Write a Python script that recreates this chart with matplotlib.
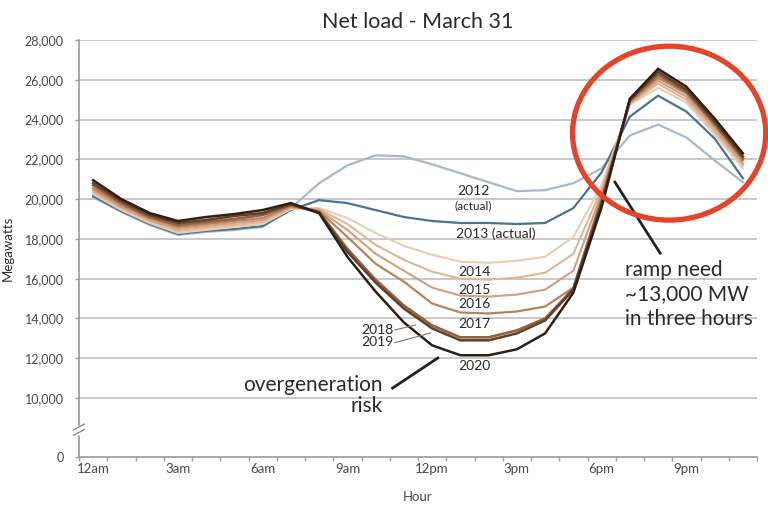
import numpy as np
import matplotlib
matplotlib.use("Agg")
import matplotlib.pyplot as plt
from matplotlib.patches import Ellipse

# ---------------- data ----------------
hours = list(range(24))
hour_label_pos = [0, 3, 6, 9, 12, 15, 18, 21]
hour_labels = ["12am", "3am", "6am", "9am", "12pm", "3pm", "6pm", "9pm"]

y_ticks = [0, 10000, 12000, 14000, 16000, 18000, 20000, 22000, 24000, 26000, 28000]
y_tick_labels = ["0", "10,000", "12,000", "14,000", "16,000", "18,000",
                 "20,000", "22,000", "24,000", "26,000", "28,000"]

years = ["2012", "2013", "2014", "2015", "2016", "2017", "2018", "2019", "2020"]

load_2012 = [20100, 19350, 18700, 18200, 18350, 18450, 18600, 19550, 20800, 21700, 22200, 22150,
             21750, 21300, 20850, 20400, 20450, 20800, 21550, 23200, 23750, 23100, 21950, 20850]
load_2013 = [20150, 19400, 18750, 18250, 18400, 18500, 18650, 19450, 19950, 19800, 19450, 19100,
             18900, 18800, 18800, 18750, 18800, 19550, 21350, 24150, 25200, 24400, 23050, 21050]
load_2014 = [20250, 19450, 18800, 18300, 18450, 18600, 18750, 19500, 19550, 19050, 18300, 17650,
             17200, 16850, 16800, 16900, 17100, 18100, 20700, 24750, 25600, 24850, 23250, 21550]
load_2015 = [20350, 19550, 18900, 18400, 18550, 18700, 18850, 19550, 19500, 18750, 17700, 16950,
             16350, 16000, 15950, 16050, 16300, 17250, 20500, 24800, 25800, 25000, 23400, 21700]
load_2016 = [20450, 19600, 18950, 18500, 18650, 18800, 18950, 19600, 19450, 18450, 17250, 16400,
             15550, 15150, 15100, 15200, 15450, 16400, 20300, 24850, 25950, 25150, 23550, 21800]
load_2017 = [20550, 19700, 19050, 18600, 18750, 18900, 19050, 19650, 19400, 18100, 16750, 15850,
             14750, 14300, 14250, 14350, 14600, 15550, 20100, 24900, 26100, 25300, 23700, 21950]
load_2018 = [20700, 19800, 19100, 18700, 18850, 19000, 19200, 19700, 19350, 17500, 15950, 14650,
             13650, 13050, 13050, 13400, 14000, 15500, 19900, 24950, 26250, 25400, 23800, 22050]
load_2019 = [20800, 19900, 19200, 18800, 18950, 19150, 19300, 19750, 19300, 17350, 15800, 14500,
             13500, 12900, 12900, 13250, 13900, 15450, 19800, 25000, 26400, 25500, 23900, 22150]
load_2020 = [20950, 20000, 19300, 18900, 19100, 19250, 19450, 19800, 19300, 17100, 15350, 13800,
             12650, 12150, 12150, 12450, 13250, 15300, 19600, 25050, 26550, 25650, 24050, 22300]

series = [load_2012, load_2013, load_2014, load_2015, load_2016,
          load_2017, load_2018, load_2019, load_2020]
colors = ["#a9b8c5", "#4a7391", "#e9cdb3", "#ddb697", "#cfa080",
          "#b9825f", "#95603d", "#60402a", "#2c1f16"]
widths = [1.6, 1.6, 1.5, 1.5, 1.5, 1.6, 1.9, 1.8, 1.8]

# ---------------- styling ----------------
FONT = ["Lato", "DejaVu Sans"]
plt.rcParams["font.family"] = FONT
TXT = "#2a2a2a"
TICK = "#4a4a4a"
GRID = "#c4c4c4"

# broken y axis: the range 0-10,000 is compressed
K = 0.2965
def fwd(v):
    v = np.asarray(v, dtype=float)
    return np.where(v >= 10000, v, 10000 - (10000 - v) * K)
def inv(u):
    u = np.asarray(u, dtype=float)
    return np.where(u >= 10000, u, 10000 - (10000 - u) / K)

fig = plt.figure(figsize=(7.68, 5.07), dpi=100)
ax = fig.add_axes([79 / 768, 1 - 457 / 507, (757 - 79) / 768, (457 - 40) / 507])
ax.set_yscale("function", functions=(fwd, inv))

for vals, c, lw in zip(series, colors, widths):
    ax.plot(hours, vals, color=c, lw=lw, solid_joinstyle="miter", zorder=3)

ax.set_xlim(-0.5, 23.5)
ax.set_ylim(0, 28000)

# grid
for t in y_ticks[1:]:
    ax.axhline(t, color=GRID, lw=1.3, zorder=1)

# ticks
ax.set_yticks(y_ticks)
ax.set_yticklabels(y_tick_labels)
ax.tick_params(axis="y", length=3, width=1, color="#9a9a9a", pad=8,
               labelsize=9, labelcolor=TICK)
ax.set_xticks(np.arange(-0.5, 24, 1))
ax.set_xticklabels([])
ax.set_xticks(hour_label_pos, minor=True)
ax.set_xticklabels(hour_labels, minor=True)
ax.tick_params(axis="x", which="major", length=3, width=1, color="#9a9a9a", direction="out")
ax.tick_params(axis="x", which="minor", length=0, pad=4, labelsize=9.5, labelcolor=TICK)

for s in ["top", "right"]:
    ax.spines[s].set_visible(False)
for s in ["left", "bottom"]:
    ax.spines[s].set_color("#9a9a9a")
    ax.spines[s].set_linewidth(1.2)

# axis break marks on the y axis
ax.plot([0, 0], [0.058, 0.071], transform=ax.transAxes, color="white",
        lw=2.5, clip_on=False, zorder=4)
for dy in (0.0, 0.013):
    ax.plot([-0.008, 0.008], [0.052 + dy, 0.066 + dy], transform=ax.transAxes,
            color="#8a8a8a", lw=1.0, clip_on=False, zorder=5)

ax.set_title("Net load - March 31", fontsize=15.5, color=TXT, pad=9)
ax.set_xlabel("Hour", fontsize=9.5, color=TICK, labelpad=12)
ax.set_ylabel("Megawatts", fontsize=9.5, color=TXT, labelpad=8)

# year labels
lab = dict(fontsize=10, color=TXT, ha="center", va="center", zorder=6)
ax.text(13.47, 20400, "2012", **lab)
ax.text(13.47, 19650, "(actual)", fontsize=8.5, color=TXT, ha="center", va="center")
ax.text(14.25, 18240, "2013 (actual)", **lab)
ax.text(13.5, 16330, "2014", **lab)
ax.text(13.5, 15430, "2015", **lab)
ax.text(13.5, 14720, "2016", **lab)
ax.text(13.5, 13720, "2017", **lab)
ax.text(13.5, 11610, "2020", **lab)
ax.text(10.07, 13420, "2018", **lab)
ax.text(10.07, 12810, "2019", **lab)
ax.plot([10.68, 11.41], [13420, 13670], color="#777777", lw=0.8, zorder=6)
ax.plot([10.68, 11.95], [12780, 13270], color="#777777", lw=0.8, zorder=6)

# callouts
ax.text(10.24, 10120, "overgeneration\nrisk", fontsize=15, color=TXT,
        ha="right", va="center", multialignment="right", linespacing=1.1)
ax.plot([10.6, 12.2], [10500, 12010], color="#222222", lw=2, zorder=6)

ax.text(18.83, 15226, "ramp need\n~13,000 MW\nin three hours", fontsize=15, color=TXT,
        ha="left", va="center", linespacing=1.28)
ax.plot([18.47, 20.07], [20854, 17287], color="#222222", lw=2, zorder=6)

ell = Ellipse((20.39, 23317), 6.84, 8744, fill=False, edgecolor="#e5432c",
              lw=3.8, clip_on=False, zorder=7)
ax.add_patch(ell)

fig.savefig("out.png", dpi=100)
